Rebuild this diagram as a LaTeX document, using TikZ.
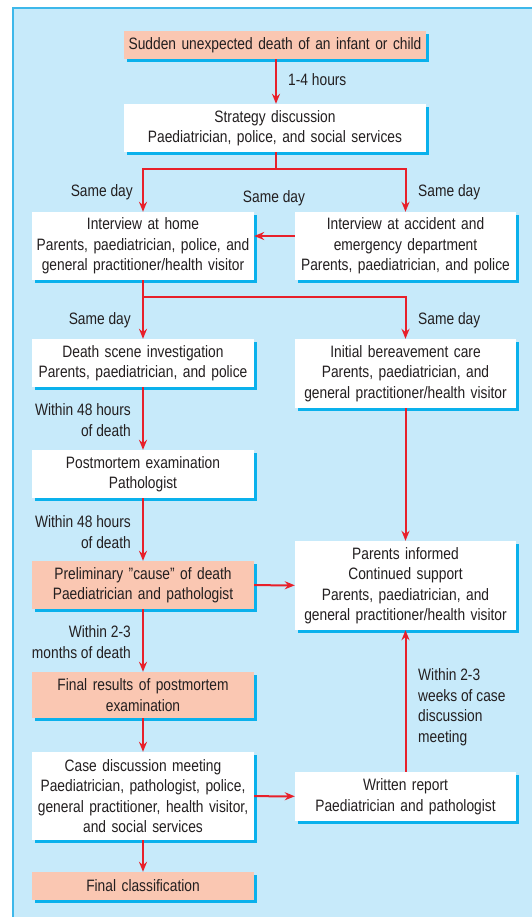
\documentclass[tikz,border=0pt]{standalone}
\usepackage{fontspec}
\setmainfont[FakeStretch=0.835]{Liberation Sans}
\usetikzlibrary{arrows.meta,shadows,calc}
\definecolor{panelc}{HTML}{C7EAFA}
\definecolor{borderc}{HTML}{3DB8EA}
\definecolor{shadowc}{HTML}{0AB1EC}
\definecolor{salmon}{HTML}{FAC7B2}
\definecolor{arrc}{HTML}{E8202A}
\definecolor{txtc}{HTML}{231F20}
\begin{document}
\begin{tikzpicture}[x=1pt,y=-1pt,
  font=\fontsize{16.5}{20.5}\selectfont, text=txtc,
  box/.style={fill=white, draw=none, align=center, inner sep=0pt,
    copy shadow={shadow xshift=3pt, shadow yshift=-3pt, fill=shadowc, draw=none}},
  pink/.style={box, fill=salmon},
  lw/.style={minimum width=222pt, text width=220pt},
  rw/.style={minimum width=221pt, text width=220pt},
  tw/.style={minimum width=302pt, text width=298pt},
  arr/.style={draw=arrc, line width=2pt, -{Stealth[length=10pt,width=8pt]}},
  ln/.style={draw=arrc, line width=2pt},
  lbl/.style={inner sep=0pt, align=right},
  lbll/.style={inner sep=0pt, align=left}]
\useasboundingbox (0,0) rectangle (531,917);
\fill[panelc] (13,7) rectangle (540,930);
\draw[borderc, line width=2pt] (13,930) -- (13,8) -- (540,8);

\node[pink, tw, minimum height=28pt] (top) at (275,45) {Sudden unexpected death of an infant or child};
\node[box, tw, minimum height=48pt] (strat) at (275,128) {Strategy discussion\\Paediatrician, police, and social services};
\node[box, lw, minimum height=68pt] (home) at (143,246) {Interview at home\\Parents, paediatrician, police, and\\general practitioner/health visitor};
\node[box, rw, minimum height=68pt] (ae) at (405.5,246) {Interview at accident and\\emergency department\\Parents, paediatrician, and police};
\node[box, lw, minimum height=48pt] (scene) at (143,363) {Death scene investigation\\Parents, paediatrician, and police};
\node[box, rw, minimum height=69pt] (bereave) at (405.5,373.5) {Initial bereavement care\\Parents, paediatrician, and\\general practitioner/health visitor};
\node[box, lw, minimum height=48pt] (pm) at (143,474) {Postmortem examination\\Pathologist};
\node[pink, lw, minimum height=48pt] (prelim) at (143,585) {Preliminary "cause" of death\\Paediatrician and pathologist};
\node[box, rw, minimum height=89pt] (informed) at (405.5,585.5) {Parents informed\\Continued support\\Parents, paediatrician, and\\general practitioner/health visitor};
\node[pink, lw, minimum height=46pt] (results) at (143,695) {Final results of postmortem\\examination};
\node[box, lw, minimum height=88pt] (case) at (143,796) {Case discussion meeting\\Paediatrician, pathologist, police,\\general practitioner, health visitor,\\and social services};
\node[box, rw, minimum height=49pt] (report) at (405.5,796.5) {Written report\\Paediatrician and pathologist};
\node[pink, lw, minimum height=28pt] (final) at (143,886) {Final classification};

\coordinate (j1) at (276,169);
\coordinate (j2) at (143,297);
\coordinate (y1) at (0,236);

\draw[arr] (top.south -| j1) -- (strat.north -| j1);
\draw[ln] (strat.south -| j1) -- (j1);
\draw[arr] (j1) -| (home.north);
\draw[arr] (j1) -| (ae.north);
\draw[arr] (ae.west |- y1) -- (home.east |- y1);
\draw[ln] (home.south) -- (j2);
\draw[arr] (j2) -- (scene.north);
\draw[arr] (j2) -| (bereave.north);
\draw[arr] (scene) -- (pm);
\draw[arr] (pm) -- (prelim);
\draw[arr] (prelim) -- (results);
\draw[arr] (results) -- (case);
\draw[arr] (case) -- (final);
\draw[arr] (bereave) -- (informed);
\draw[arr] (prelim) -- (informed);
\draw[arr] (case) -- (report);
\draw[arr] (report) -- (informed);

\node[lbll, anchor=west] (l1) at (288,80) {1-4 hours};
\node[lbl, anchor=east] (l2) at (133,192) {Same day};
\node[lbl] (l3) at (274,198) {Same day};
\node[lbll, anchor=west] (l4) at (418,192) {Same day};
\node[lbl, anchor=east] (l5) at (131,320) {Same day};
\node[lbll, anchor=west] (l6) at (418,320) {Same day};
\node[lbl, anchor=east] (l7) at (131,420) {Within 48 hours\\of death};
\node[lbl, anchor=east] (l8) at (131,532) {Within 48 hours\\of death};
\node[lbl, anchor=east] (l9) at (131,642) {Within 2-3\\months of death};
\node[lbll, anchor=west] (l10) at (418,707) {Within 2-3\\weeks of case\\discussion\\meeting};
\end{tikzpicture}
\end{document}
